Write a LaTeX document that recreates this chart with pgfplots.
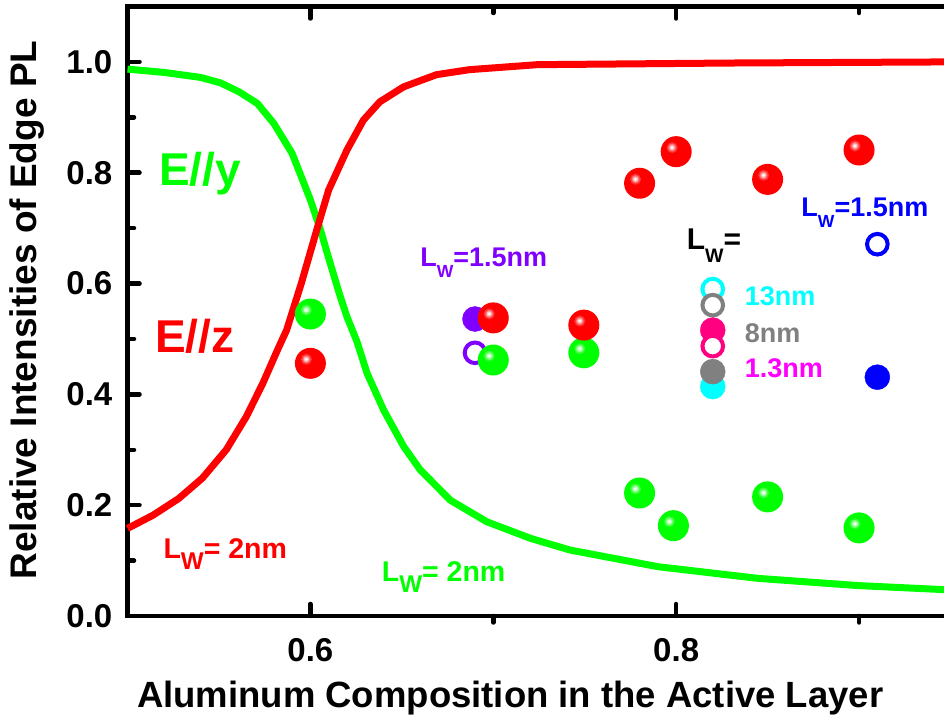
\documentclass[border=0pt]{standalone}
\usepackage{fontspec}
\setmainfont{Liberation Sans}
\usepackage{graphicx}
\usepackage{pgfplots}
\pgfplotsset{compat=1.18}
\definecolor{mygreen}{RGB}{0,255,0}
\definecolor{myred}{RGB}{255,0,0}
\definecolor{mypurple}{RGB}{128,0,255}
\definecolor{mycyan}{RGB}{0,255,255}
\definecolor{mygray}{RGB}{128,128,128}
\definecolor{mypink}{RGB}{255,0,128}
\definecolor{mymagenta}{RGB}{255,0,255}
\definecolor{myblue}{RGB}{0,0,255}
% sphere-like marks built from layered discs
\newcommand{\balllayer}[4]{% color, xoff, yoff, radius factor
  \pgfsetfillcolor{#1}%
  \pgfpathcircle{\pgfpoint{#2\pgfplotmarksize}{#3\pgfplotmarksize}}{#4\pgfplotmarksize}%
  \pgfusepath{fill}}
\pgfdeclareplotmark{redball}{%
  \balllayer{myred}{0}{0}{1}%
  \balllayer{myred!80!white}{-0.26}{0.26}{0.36}%
  \balllayer{myred!55!white}{-0.26}{0.26}{0.26}%
  \balllayer{myred!25!white}{-0.26}{0.26}{0.17}%
  \balllayer{white}{-0.26}{0.26}{0.09}}
\pgfdeclareplotmark{greenball}{%
  \balllayer{mygreen}{0}{0}{1}%
  \balllayer{mygreen!80!white}{-0.26}{0.26}{0.36}%
  \balllayer{mygreen!55!white}{-0.26}{0.26}{0.26}%
  \balllayer{mygreen!25!white}{-0.26}{0.26}{0.17}%
  \balllayer{white}{-0.26}{0.26}{0.09}}
\newcommand{\Lw}{L\raisebox{-0.42em}{\scalebox{0.65}{W}}}
\newcommand{\Lwb}{L\raisebox{-0.38em}{\scalebox{0.85}{W}}}
\tikzset{tk/.style={black, line width=4.5pt, line cap=round}}
\begin{document}
\begin{tikzpicture}
\begin{axis}[
  width=823pt, height=609.5pt, scale only axis,
  xmin=0.5, xmax=0.95, ymin=0, ymax=1.1,
  xtick={0.6,0.8},
  ytick={0,0.2,0.4,0.6,0.8,1.0},
  tick style={draw=none},
  axis line style={line width=4.5pt},
  /pgf/number format/fixed, /pgf/number format/fixed zerofill,
  /pgf/number format/precision=1,
  /pgf/number format/assume math mode=true,
  tick label style={font=\fontsize{33}{33}\selectfont\bfseries},
  xticklabel style={anchor=north, inner sep=0pt, yshift=-22pt},
  yticklabel style={anchor=east, inner sep=0pt, xshift=-15pt},
  xlabel={Aluminum Composition in the Active Layer},
  ylabel={Relative Intensities of Edge PL},
  every axis x label/.style={at={(axis description cs:0.465,-0.1493)}, anchor=base, font=\fontsize{36.5}{36.5}\selectfont\bfseries},
  every axis y label/.style={at={(axis description cs:-0.1215,0.502)}, rotate=90, anchor=center, font=\fontsize{37}{37}\selectfont\bfseries},
  clip=false,
]
\addplot[mygreen, line width=7pt, line join=round] table {
0.500 0.987
0.520 0.981
0.540 0.972
0.551 0.962
0.561 0.946
0.571 0.925
0.580 0.889
0.590 0.835
0.600 0.751
0.6055 0.697
0.610 0.646
0.616 0.580
0.620 0.540
0.6255 0.495
0.631 0.438
0.640 0.372
0.651 0.306
0.660 0.264
0.6765 0.209
0.6965 0.170
0.7205 0.140
0.742 0.119
0.790 0.089
0.8445 0.068
0.899 0.055
0.950 0.047
};
\addplot[myred, line width=7pt, line join=round] table {
0.500 0.158
0.514 0.182
0.528 0.212
0.541 0.249
0.554 0.300
0.565 0.360
0.574 0.420
0.582 0.480
0.587 0.516
0.595 0.600
0.6035 0.697
0.610 0.769
0.620 0.841
0.629 0.895
0.638 0.928
0.651 0.955
0.669 0.977
0.687 0.986
0.724 0.995
0.831 0.998
0.950 1.000
};
% purple (L_W = 1.5 nm)
\addplot[only marks, mark=*, mark size=12.5pt, mypurple] coordinates {(0.690,0.536)};
\addplot[only marks, mark=*, mark size=10.3pt, mark options={draw=mypurple, fill=white, line width=4pt}] coordinates {(0.690,0.475)};
% spheres
\addplot[only marks, mark=greenball, mark size=15.5pt] table {
0.600 0.545
0.700 0.462
0.7495 0.475
0.780 0.222
0.7985 0.163
0.850 0.215
0.900 0.159
};
\addplot[only marks, mark=redball, mark size=15.5pt] table {
0.600 0.456
0.700 0.538
0.7495 0.525
0.780 0.781
0.800 0.838
0.850 0.788
0.900 0.841
};
% L_W series at 0.82
\addplot[only marks, mark=*, mark size=10.3pt, mark options={draw=mycyan, fill=white, line width=4pt}] coordinates {(0.820,0.590)};
\addplot[only marks, mark=*, mark size=12.5pt, mycyan] coordinates {(0.820,0.414)};
\addplot[only marks, mark=*, mark size=10.3pt, mark options={draw=mygray, fill=white, line width=4pt}] coordinates {(0.820,0.561)};
\addplot[only marks, mark=*, mark size=12.5pt, mypink] coordinates {(0.820,0.516)};
\addplot[only marks, mark=*, mark size=10.3pt, mark options={draw=mypink, fill=white, line width=4pt}] coordinates {(0.820,0.487)};
\addplot[only marks, mark=*, mark size=12.5pt, mygray] coordinates {(0.820,0.441)};
% blue L_W=1.5nm
\addplot[only marks, mark=*, mark size=10.3pt, mark options={draw=myblue, fill=white, line width=4pt}] coordinates {(0.910,0.671)};
\addplot[only marks, mark=*, mark size=12.5pt, myblue] coordinates {(0.910,0.431)};
% annotations
\node[anchor=base west, inner sep=0pt, text=mygreen, font=\fontsize{46}{46}\selectfont\bfseries] at (axis cs:0.5172,0.777) {E//y};
\node[anchor=base west, inner sep=0pt, text=myred, font=\fontsize{46}{46}\selectfont\bfseries] at (axis cs:0.515,0.475) {E//z};
\node[anchor=base west, inner sep=0pt, text=myred, font=\fontsize{28.5}{28.5}\selectfont\bfseries] at (axis cs:0.5196,0.104) {\Lwb= 2nm};
\node[anchor=base west, inner sep=0pt, text=mygreen, font=\fontsize{28.5}{28.5}\selectfont\bfseries] at (axis cs:0.639,0.062) {\Lwb= 2nm};
\node[anchor=base west, inner sep=0pt, text=mypurple, font=\fontsize{27}{27}\selectfont\bfseries] at (axis cs:0.660,0.631) {\Lw=1.5nm};
\node[anchor=base west, inner sep=0pt, text=black, font=\fontsize{30}{30}\selectfont\bfseries] at (axis cs:0.8057,0.661) {\Lw=};
\node[anchor=base west, inner sep=0pt, text=mycyan, font=\fontsize{27}{27}\selectfont\bfseries] at (axis cs:0.8374,0.561) {13nm};
\node[anchor=base west, inner sep=0pt, text=mygray, font=\fontsize{27}{27}\selectfont\bfseries] at (axis cs:0.8374,0.493) {8nm};
\node[anchor=base west, inner sep=0pt, text=mymagenta, font=\fontsize{27}{27}\selectfont\bfseries] at (axis cs:0.8374,0.430) {1.3nm};
\node[anchor=base west, inner sep=0pt, text=myblue, font=\fontsize{27}{27}\selectfont\bfseries] at (axis cs:0.8684,0.721) {\Lw=1.5nm};
\end{axis}
% tick marks drawn on the axis frame (axis box spans (0,0)--(823pt,609.5pt))
\foreach \yy in {110.82,221.64,332.45,443.27,554.09} {\draw[tk] (0pt,\yy pt) -- (12pt,\yy pt);}
\foreach \yy in {55.41,166.23,277.05,387.86,498.68} {\draw[tk] (0pt,\yy pt) -- (6.5pt,\yy pt);}
\foreach \xx in {182.89,548.67} {\draw[tk] (\xx pt,0pt) -- (\xx pt,12pt); \draw[tk] (\xx pt,609.5pt) -- (\xx pt,597.5pt);}
\foreach \xx in {365.78,731.56} {\draw[tk] (\xx pt,0pt) -- (\xx pt,-6.5pt); \draw[tk] (\xx pt,609.5pt) -- (\xx pt,603pt);}
\pgfresetboundingbox
\useasboundingbox (-127.5pt,-103pt) rectangle (816.5pt,616pt);
\end{tikzpicture}
\end{document}
